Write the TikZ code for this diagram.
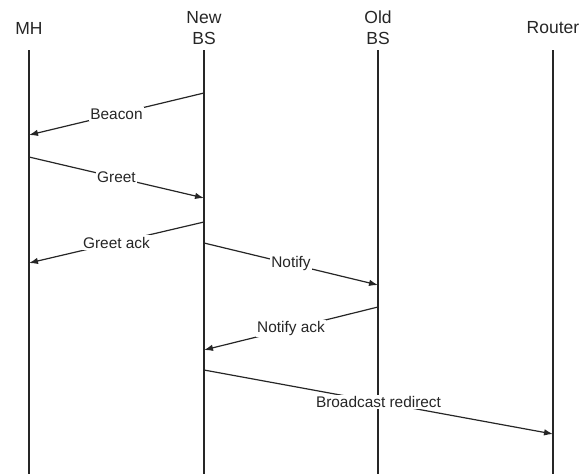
\documentclass[tikz,border=0pt]{standalone}
\usepackage{fontspec}
\setmainfont{Liberation Sans}
\usetikzlibrary{arrows.meta}

\begin{document}
\begin{tikzpicture}[x = 1pt , y = -1pt , line join = round ,
    actor/.style = {align = center , inner sep = 0pt , font = \fontsize{17.5}{21}\selectfont , text = black!85},
    life/.style = {line width = 1.8pt , black!85},
    msg/.style = {line width = 1.2pt , black!85 , -{Latex[length = 9pt , width = 6.5pt]}},
    lbl/.style = {fill = white , inner sep = 1.5pt , font = \fontsize{15.4}{18}\selectfont , text = black!85}]
    \useasboundingbox (0,0) rectangle (588,474);

    % Κεφαλίδες
    \node[actor] (mh) at (29,28) {MH};
    \node[actor] (newbs) at (204,28) {New\\BS};
    \node[actor] (oldbs) at (378,28) {Old\\BS};
    \node[actor] (router) at (553,28) {Router};

    % Γραμμές ζωής
    \coordinate (mh0) at (29,50);      \coordinate (mh1) at (29,474);
    \coordinate (newbs0) at (204,50);  \coordinate (newbs1) at (204,474);
    \coordinate (oldbs0) at (378,50);  \coordinate (oldbs1) at (378,474);
    \coordinate (router0) at (553,50); \coordinate (router1) at (553,474);
    \draw[life] (mh0) -- (mh1);
    \draw[life] (newbs0) -- (newbs1);
    \draw[life] (oldbs0) -- (oldbs1);
    \draw[life] (router0) -- (router1);

    % Μηνύματα
    \coordinate (beacon0) at (204,93);   \coordinate (beacon1) at (29,135);
    \coordinate (greet0) at (29,157);    \coordinate (greet1) at (204,198);
    \coordinate (gack0) at (204,222);    \coordinate (gack1) at (29,263);
    \coordinate (notify0) at (204,243);  \coordinate (notify1) at (378,285);
    \coordinate (nack0) at (378,307);    \coordinate (nack1) at (204,350);
    \coordinate (redir0) at (204,370);   \coordinate (redir1) at (553,434);
    \draw[msg] (beacon0) -- (beacon1) node[lbl , midway]{Beacon};
    \draw[msg] (greet0) -- (greet1) node[lbl , midway]{Greet};
    \draw[msg] (gack0) -- (gack1) node[lbl , midway]{Greet ack};
    \draw[msg] (notify0) -- (notify1) node[lbl , midway]{Notify};
    \draw[msg] (nack0) -- (nack1) node[lbl , midway]{Notify ack};
    \draw[msg] (redir0) -- (redir1) node[lbl , midway]{Broadcast redirect};
\end{tikzpicture}
\end{document}
